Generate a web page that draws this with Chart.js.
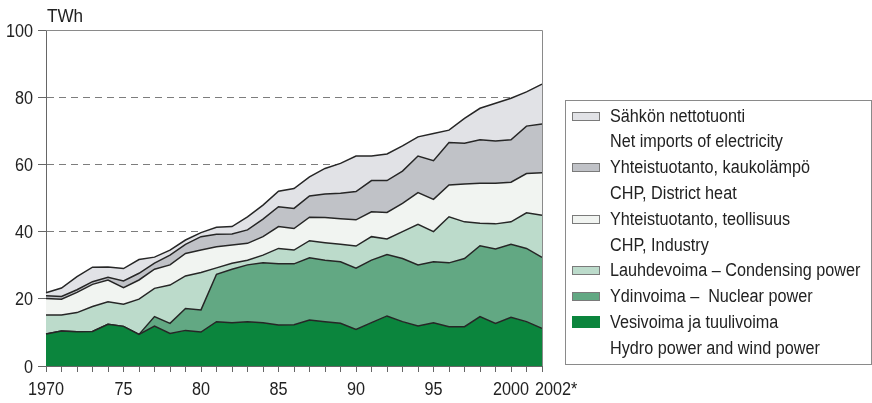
<!DOCTYPE html>
<html>
<head>
<meta charset="utf-8">
<script src="https://cdn.jsdelivr.net/npm/chart.js@4"></script>
<style>
  html, body { margin: 0; padding: 0; background: #fff; }
  #wrap { width: 872px; height: 403px; }
</style>
</head>
<body>
<div id="wrap"><canvas id="chart" width="872" height="403"></canvas></div>
<script>
// ——————————————————————————————
// Data (TWh)
// ——————————————————————————————
const years = [];
for (let y = 1970; y <= 2002; y++) years.push(y);

const hydro = [9.5,10.4,10.2,10.3,12.4,11.8,9.4,11.9,9.7,10.6,10.1,13.2,12.9,13.2,12.9,12.2,12.3,13.7,13.2,12.7,10.9,12.9,14.9,13.2,11.9,12.9,11.7,11.7,14.7,12.7,14.5,13.2,11.2];
const nuclear = [0,0,0,0,0,0,0,2.8,3.0,6.5,6.6,14.1,15.9,16.9,17.8,18.2,18.1,18.5,18.3,18.3,18.2,18.6,18.3,18.8,18.2,18.1,19.0,20.3,21.1,22.1,21.7,21.8,21.1];
const condensing = [5.7,4.8,5.7,7.4,6.7,6.6,10.5,8.4,11.4,9.7,11.1,1.9,1.8,1.4,2.3,4.6,4.1,5.1,5.2,5.2,6.6,7.0,4.6,8.0,12.1,9.0,13.7,10.9,6.7,7.5,6.7,10.6,12.6];
const chpIndustry = [4.9,4.7,6.0,6.6,6.5,4.9,5.7,5.7,6.0,6.7,6.7,6.3,5.4,5.0,5.5,6.5,6.4,7.0,7.5,7.6,7.8,7.4,7.9,8.4,9.4,9.6,9.5,11.3,11.9,12.1,11.8,11.7,12.6];
const chpDistrict = [0.8,0.8,0.8,0.8,0.8,2.0,2.0,1.8,2.9,2.7,4.0,3.7,3.3,4.0,5.2,5.9,6.0,6.3,7.0,7.6,8.4,9.3,9.5,9.6,10.9,11.5,12.6,12.1,12.9,12.6,12.6,14.1,14.5];
const netImports = [0.9,2.5,3.9,4.3,3.1,3.7,4.1,1.8,1.5,1.3,1.2,2.1,2.2,3.9,4.2,4.6,5.9,5.7,7.6,8.9,10.6,7.3,7.9,7.5,5.7,8.1,3.7,7.4,9.4,11.2,12.4,10.2,11.9];

const yTicks = [0, 20, 40, 60, 80, 100];
const xTickLabels = { 1970: "1970", 1975: "75", 1980: "80", 1985: "85", 1990: "90", 1995: "95", 2000: "2000", 2002: "2002*" };

// legend texts, bottom layer first
const labelsFi = ["Vesivoima ja tuulivoima", "Ydinvoima –  Nuclear power", "Lauhdevoima – Condensing power", "Yhteistuotanto, teollisuus", "Yhteistuotanto, kaukolämpö", "Sähkön nettotuonti"];
const labelsEn = ["Hydro power and wind power", "", "", "CHP, Industry", "CHP, District heat", "Net imports of electricity"];
const colors = ["#0b853d", "#62a883", "#bcdbcb", "#f1f4f1", "#c0c2c7", "#e1e2e6"];

const FONT = '"Liberation Sans", Arial, sans-serif';
const SQUEEZE = 0.9;   // narrow look of the original type

// text drawn horizontally squeezed
function narrowText(ctx, text, x, y, align) {
  ctx.save();
  ctx.translate(x, y);
  ctx.scale(SQUEEZE, 1);
  ctx.textAlign = align;
  ctx.fillText(text, 0, 0);
  ctx.restore();
}

// ——————————————————————————————
// Extra drawing: frame, axis labels, legend
// ——————————————————————————————
const extras = {
  id: "extras",
  afterDatasetsDraw(chart) {
    const { ctx, chartArea: a } = chart;
    ctx.save();
    ctx.strokeStyle = "#8a8a8a";
    ctx.lineWidth = 1;
    ctx.beginPath();
    ctx.moveTo(a.left, a.top + 0.5);
    ctx.lineTo(a.right + 0.5, a.top + 0.5);
    ctx.lineTo(a.right + 0.5, a.bottom);
    ctx.stroke();
    ctx.restore();
  },
  afterDraw(chart) {
    const { ctx, chartArea: a } = chart;
    const xs = chart.scales.x, ys = chart.scales.y;
    ctx.save();
    ctx.fillStyle = "#222";
    ctx.textBaseline = "alphabetic";

    // unit
    ctx.font = "19px " + FONT;
    narrowText(ctx, "TWh", a.left + 1, 22, "left");

    // y labels
    ctx.font = "18px " + FONT;
    yTicks.forEach(v => {
      narrowText(ctx, String(v), a.left - 13, ys.getPixelForValue(v) + 6.5, "right");
    });

    // x labels
    years.forEach((yr, i) => {
      const t = xTickLabels[yr];
      if (!t) return;
      const px = xs.getPixelForValue(i);
      if (yr === 2002) narrowText(ctx, t, px - 7, a.bottom + 29, "left");
      else narrowText(ctx, t, px, a.bottom + 29, "center");
    });

    // legend box
    const bx = 565, by = 100, bw = 306, bh = 264;
    ctx.strokeStyle = "#8a8a8a";
    ctx.lineWidth = 1;
    ctx.strokeRect(bx + 0.5, by + 0.5, bw, bh);

    const lineH = 25.8;
    let ty = 115;
    for (let k = labelsFi.length - 1; k >= 0; k--) {
      const sh = k === 0 ? 12 : 9;
      const sy = Math.round(ty - sh / 2 + 1);
      ctx.fillStyle = colors[k];
      ctx.fillRect(572, sy, 28, sh);
      if (k > 0) {
        ctx.strokeStyle = "#7a7a7a";
        ctx.strokeRect(572.5, sy + 0.5, 27, sh - 1);
      }
      ctx.fillStyle = "#222";
      narrowText(ctx, labelsFi[k], 610, ty + 6.5, "left");
      ty += lineH;
      if (labelsEn[k]) {
        narrowText(ctx, labelsEn[k], 610, ty + 6.5, "left");
        ty += lineH;
      }
    }
    ctx.restore();
  }
};

// ——————————————————————————————
// Chart
// ——————————————————————————————
const series = [hydro, nuclear, condensing, chpIndustry, chpDistrict, netImports];
const datasets = series.map((d, k) => ({
  label: labelsFi[k] + (labelsEn[k] ? " – " + labelsEn[k] : ""),
  data: d,
  backgroundColor: colors[k],
  borderColor: "#262626",
  borderWidth: 1.5,
  fill: k === 0 ? "origin" : "-1",
  pointRadius: 0,
  tension: 0
}));

new Chart(document.getElementById("chart"), {
  type: "line",
  data: { labels: years, datasets },
  options: {
    responsive: false,
    animation: false,
    layout: { padding: { top: 30, right: 330, left: 0, bottom: 0 } },
    plugins: { legend: { display: false }, tooltip: { enabled: false } },
    scales: {
      x: {
        offset: false,
        afterFit: s => { s.height = 37; },
        grid: { drawOnChartArea: false, drawTicks: true, tickLength: 6, color: "#666" },
        border: { display: true, color: "#666", width: 1 },
        ticks: { display: false, autoSkip: false }
      },
      y: {
        stacked: true,
        min: 0,
        max: 100,
        afterFit: s => { s.width = 46; },
        afterBuildTicks: s => { s.ticks = yTicks.map(v => ({ value: v })); },
        grid: {
          color: c => (c.tick && c.tick.value > 0 && c.tick.value < 100) ? "#7d7d7d" : "rgba(0,0,0,0)",
          tickColor: "#666",
          tickLength: 8,
          lineWidth: 1
        },
        border: { display: true, color: "#666", width: 1, dash: [7, 5] },
        ticks: { display: false }
      }
    }
  },
  plugins: [extras]
});
</script>
</body>
</html>
